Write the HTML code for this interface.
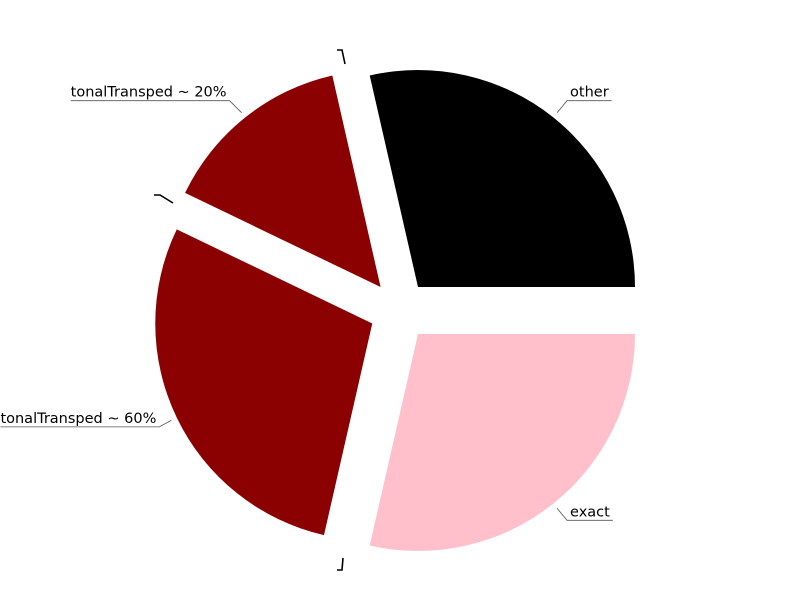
<!DOCTYPE html>
<html><head><meta charset="utf-8"><style>
body{margin:0;background:#fff;}
svg{display:block;font-family:"DejaVu Sans","Liberation Sans",sans-serif;}
</style></head><body>
<svg id="chart" width="800" height="600"></svg>
<script>
const labels = ["other","tonalTransped ~ 20%","tonalTransped ~ 60%","exact"];
const values = [2,1,2,2];
const colors = ["#000000","#8b0000","#8b0000","#ffc0cb"];
const NS="http://www.w3.org/2000/svg";
const svg=document.getElementById('chart');
const cx=399.3, cy=310.5, R=217, EXP=30;
const total=values.reduce((a,b)=>a+b,0);
function mk(t,attrs){const e=document.createElementNS(NS,t);for(const k in attrs)e.setAttribute(k,attrs[k]);svg.appendChild(e);return e;}
let a0=0;
values.forEach((v,i)=>{
  const sweep=v/total*360;
  const a1=a0+sweep, mid=(a0+a1)/2*Math.PI/180;
  const ox=cx+EXP*Math.cos(mid), oy=cy-EXP*Math.sin(mid);
  const r0=a0*Math.PI/180, r1=a1*Math.PI/180;
  const x0=ox+R*Math.cos(r0), y0=oy-R*Math.sin(r0);
  const x1=ox+R*Math.cos(r1), y1=oy-R*Math.sin(r1);
  const large=sweep>180?1:0;
  const p=mk('path',{d:`M${ox},${oy}L${x0},${y0}A${R},${R} 0 ${large} 0 ${x1},${y1}Z`,fill:colors[i]});
  
  
  const sx=ox+(R+6)*Math.cos(mid), sy=oy-(R+6)*Math.sin(mid);
  const right=Math.cos(mid)>=0;
  const ey=sy+(Math.sin(mid)>=0?-12:12)*(Math.abs(Math.sin(mid))>0.6?1:0.55);
  const ex=sx+(right?10:-12);
  const t=mk('text',{x:0,y:ey-4,'font-size':14.5,fill:'#000'});
  t.textContent=labels[i];
  
  
  const tw=t.getComputedTextLength();
  const hx=right?ex+Math.max(40,tw+6):ex-tw-3;
  t.setAttribute('x', right?ex+3:hx);
  const l=mk('polyline',{points:`${sx},${sy} ${ex},${ey} ${hx},${ey}`,fill:'none',stroke:'#555','stroke-width':0.8});
  
  
  a0=a1;
});
[[337,50,342,50,345,64],[154,195,160,195,173,203],[343,558,342,570,337,570]].forEach(q=>{
  const m=mk('polyline',{points:`${q[0]},${q[1]} ${q[2]},${q[3]} ${q[4]},${q[5]}`,fill:'none',stroke:'#000','stroke-width':1.6});
  
  
});
</script>
</body></html>
